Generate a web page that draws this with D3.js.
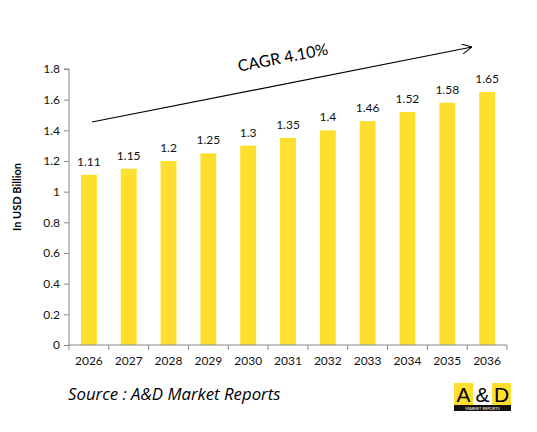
<!DOCTYPE html>
<html>
<head>
<meta charset="utf-8">
<script src="https://cdn.jsdelivr.net/npm/d3@7"></script>
<style>
	body { margin: 0; background: #fff; }
	text { font-family: Lato, "Open Sans", sans-serif; }
</style>
</head>
<body>
<div id="chart"></div>
<script>
const years = ["2026", "2027", "2028", "2029", "2030", "2031", "2032", "2033", "2034", "2035", "2036"];
const values = [1.11, 1.15, 1.2, 1.25, 1.3, 1.35, 1.4, 1.46, 1.52, 1.58, 1.65];
const yTicks = [0, 0.2, 0.4, 0.6, 0.8, 1, 1.2, 1.4, 1.6, 1.8];
const cagrLabel = "CAGR 4.10%";
const sourceLabel = "Source : A&D Market Reports";

const width = 537, height = 432;
const plotLeft = 69, plotRight = 507, plotTop = 69, plotBottom = 345;
const barColor = "#ffdf2e";

let svg = d3.select("#chart").append("svg")
	.attr("width", width)
	.attr("height", height);

let xScale = d3.scaleBand()
	.domain(years)
	.range([plotLeft, plotRight])
	.paddingInner(0.6)
	.paddingOuter(0.3);

let yScale = d3.scaleLinear()
	.domain([0, 1.8])
	.range([plotBottom, plotTop]);

// bars
svg.append("g")
	.selectAll("rect")
	.data(values)
	.join("rect")
	.attr("x", (d, i) => xScale(years[i]))
	.attr("y", d => yScale(d))
	.attr("width", xScale.bandwidth())
	.attr("height", d => plotBottom - yScale(d))
	.attr("fill", barColor);

// value labels
svg.append("g")
	.selectAll("text")
	.data(values)
	.join("text")
	.text(d => d)
	.attr("x", (d, i) => xScale(years[i]) + xScale.bandwidth() / 2)
	.attr("y", d => yScale(d) - 9)
	.attr("text-anchor", "middle")
	.attr("font-size", 12)
	.attr("fill", "#111");

// y axis
let yAxis = d3.axisLeft(yScale)
	.tickValues(yTicks)
	.tickSize(5)
	.tickFormat(d => d);
let yg = svg.append("g")
	.attr("transform", `translate(${plotLeft},0)`)
	.call(yAxis);
yg.select(".domain").attr("stroke", "#888").attr("d", `M-5,${plotTop}H0V${plotBottom}`);
yg.selectAll(".tick line").attr("stroke", "#888");
yg.selectAll(".tick text")
	.attr("x", -9)
	.attr("font-size", 12)
	.attr("fill", "#111");

// x axis, ticks sit on category boundaries
let xg = svg.append("g")
	.attr("transform", `translate(0,${plotBottom})`);
xg.append("line")
	.attr("x1", plotLeft).attr("x2", plotRight)
	.attr("stroke", "#888");
let step = (plotRight - plotLeft) / years.length;
xg.selectAll("line.tk")
	.data(d3.range(years.length + 1))
	.join("line")
	.attr("class", "tk")
	.attr("x1", i => plotLeft + i * step)
	.attr("x2", i => plotLeft + i * step)
	.attr("y1", 0)
	.attr("y2", 5)
	.attr("stroke", "#888");
xg.selectAll("text")
	.data(years)
	.join("text")
	.text(d => d)
	.attr("x", d => xScale(d) + xScale.bandwidth() / 2)
	.attr("y", 20)
	.attr("text-anchor", "middle")
	.attr("font-size", 12)
	.attr("fill", "#111");

// y axis title
svg.append("text")
	.text("In USD Billion")
	.attr("transform", "translate(21,197) rotate(-90)")
	.attr("text-anchor", "middle")
	.attr("font-size", 11)
	.attr("font-weight", "bold")
	.attr("fill", "#000");

// CAGR arrow
svg.append("defs").append("marker")
	.attr("id", "arrow")
	.attr("viewBox", "0 0 10 10")
	.attr("refX", 10).attr("refY", 5)
	.attr("markerWidth", 10).attr("markerHeight", 10)
	.attr("markerUnits", "userSpaceOnUse")
	.attr("orient", "auto")
	.append("path")
	.attr("d", "M0,0L10,5L0,10")
	.attr("fill", "none")
	.attr("stroke", "#000");
svg.append("line")
	.attr("x1", 92).attr("y1", 122)
	.attr("x2", 472).attr("y2", 47)
	.attr("stroke", "#000")
	.attr("stroke-width", 1.2)
	.attr("marker-end", "url(#arrow)");
svg.append("text")
	.text(cagrLabel)
	.attr("transform", "translate(284,63) rotate(-11)")
	.attr("text-anchor", "middle")
	.attr("font-size", 16)
	.attr("fill", "#000");

// source
svg.append("text")
	.text(sourceLabel)
	.attr("x", 68)
	.attr("y", 400)
	.attr("font-size", 16.8)
	.style("font-family", "'Open Sans', sans-serif")
	.attr("font-style", "italic")
	.attr("fill", "#000");

// logo
let logo = svg.append("g").attr("transform", "translate(454,383)");
logo.append("rect").attr("width", 57).attr("height", 28).attr("fill", barColor);
logo.append("rect").attr("x", 19).attr("width", 19).attr("height", 22).attr("fill", "#fff");
logo.append("rect").attr("y", 22).attr("width", 57).attr("height", 6).attr("fill", "#111");
logo.append("text").text("MARKET REPORTS")
	.attr("x", 28.5).attr("y", 26.8)
	.attr("text-anchor", "middle")
	.attr("font-size", 4)
	.attr("fill", "#fff");
logo.selectAll("text.l")
	.data(["A", "&", "D"])
	.join("text")
	.attr("class", "l")
	.text(d => d)
	.attr("x", (d, i) => 9.5 + i * 19)
	.attr("y", 19)
	.attr("text-anchor", "middle")
	.attr("font-size", 21)
	.style("font-family", "'Liberation Sans', Arial, sans-serif")
	.attr("fill", "#000");
</script>
</body>
</html>
